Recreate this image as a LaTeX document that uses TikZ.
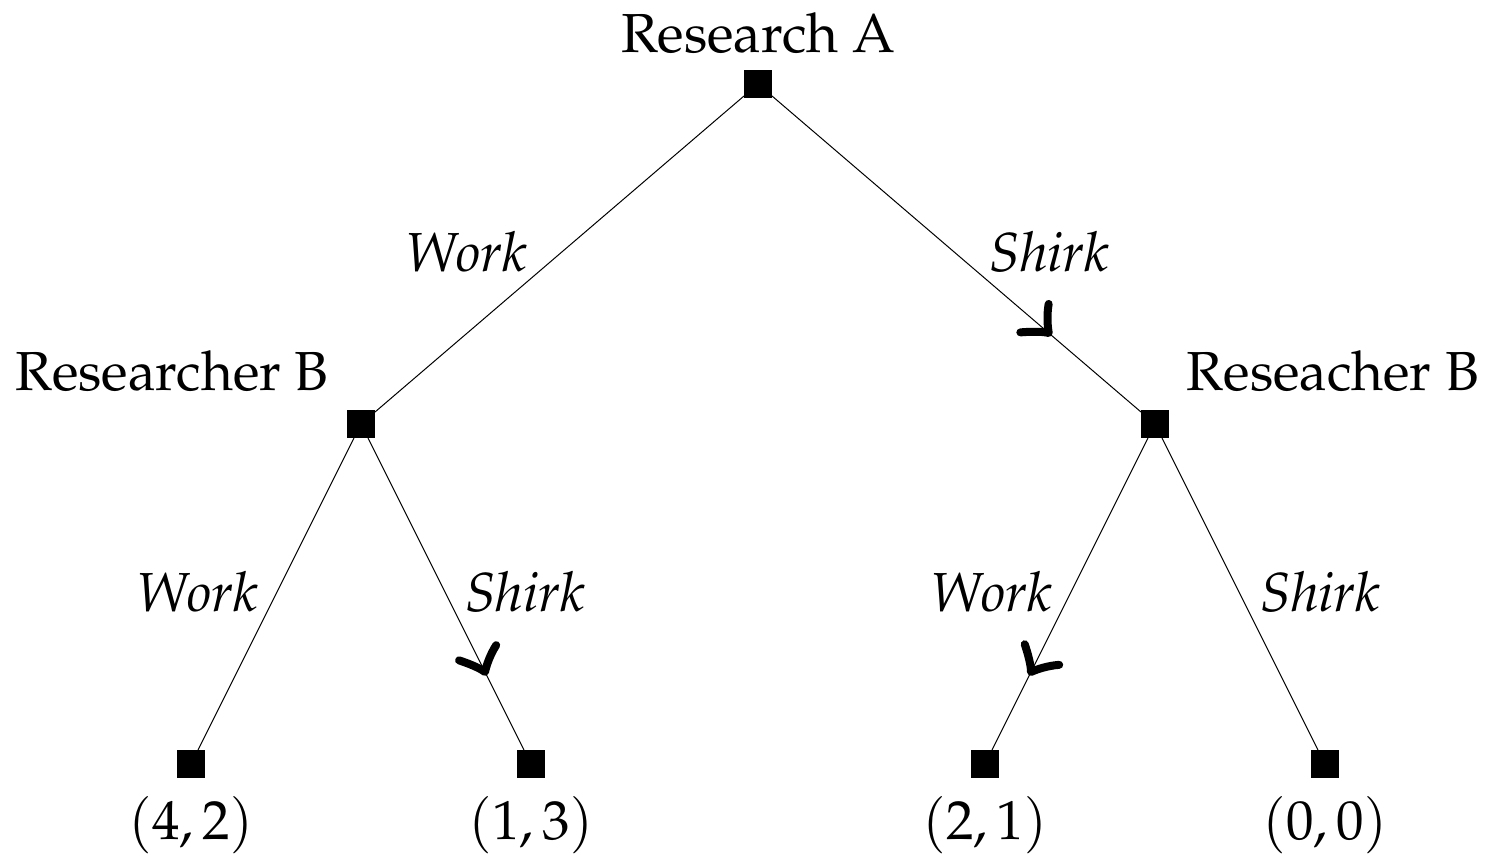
\documentclass[tikz,border=0pt]{standalone}
\usepackage[T1]{fontenc}
\usepackage{mathpazo}
\usetikzlibrary{decorations.markings}
\tikzset{
  sq/.style={fill=black, draw=none, minimum size=28pt, inner sep=0pt, outer sep=0pt},
  lbl/.style={anchor=base, inner sep=0pt, font=\fontsize{55}{64}\selectfont},
  elbl/.style={anchor=base, inner sep=0pt, font=\fontsize{55}{64}\selectfont\itshape},
  edge/.style={line width=1pt},
  choice/.style={postaction={decorate, decoration={markings,
     mark=at position 0.75 with {
       \draw[line width=8pt, line cap=round, line join=round]
         (-19pt,22pt) .. controls (-13pt,12pt) and (-5pt,4pt) .. (0,0)
         .. controls (-6pt,-3pt) and (-14pt,-10pt) .. (-22pt,-18pt);
     }}}}
}
\begin{document}
\begin{tikzpicture}[x=1pt,y=-1pt]
\useasboundingbox (0,0) rectangle (1488,857);
% decision nodes
\node[sq] (r) at (758,84) {};
\node[sq] (bl) at (361,424) {};
\node[sq] (br) at (1155,424) {};
\node[sq] (l1) at (191,764) {};
\node[sq] (l2) at (531,764) {};
\node[sq] (l3) at (985,764) {};
\node[sq] (l4) at (1325,764) {};
% edges
\draw[edge] (r) -- (bl);
\draw[edge, choice] (r) -- (br);
\draw[edge] (bl) -- (l1);
\draw[edge, choice] (bl) -- (l2);
\draw[edge, choice] (br) -- (l3);
\draw[edge] (br) -- (l4);
% player labels
\node[lbl] (tA) at (758,52) {Research A};
\node[lbl] (tBl) at (172,390) {Researcher B};
\node[lbl] (tBr) at (1333,390) {Reseacher B};
% action labels
\node[elbl] (a1) at (466,271) {Work};
\node[elbl] (a2) at (1049,271) {Shirk};
\node[elbl] (a3) at (197,611) {Work};
\node[elbl] (a4) at (525,611) {Shirk};
\node[elbl] (a5) at (991,611) {Work};
\node[elbl] (a6) at (1320,611) {Shirk};
% payoffs
\node[lbl] (p1) at (191,839) {$(4,2)$};
\node[lbl] (p2) at (531,839) {$(1,3)$};
\node[lbl] (p3) at (985,839) {$(2,1)$};
\node[lbl] (p4) at (1325,839) {$(0,0)$};
\end{tikzpicture}
\end{document}
